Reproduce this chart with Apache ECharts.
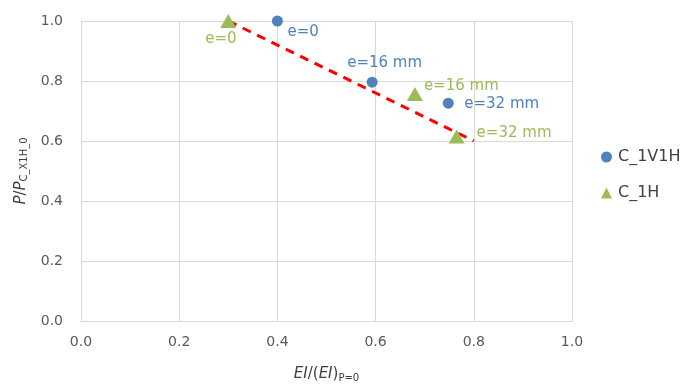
<!DOCTYPE html>
<html>
<head>
<meta charset="utf-8">
<script src="https://cdn.jsdelivr.net/npm/echarts@6/dist/echarts.min.js"></script>
<style>html,body{margin:0;padding:0;background:#fff}#c{width:682px;height:385px}</style>
</head>
<body>
<div id="c"></div>
<script>
// ---- data ----
const seriesNames = ['C_1V1H', 'C_1H'];
const pointLabels = ['e=0', 'e=16 mm', 'e=32 mm'];
const blueX = [0.40, 0.593, 0.748];
const blueY = [1.0, 0.796, 0.726];
const greenX = [0.30, 0.680, 0.765];
const greenY = [1.0, 0.757, 0.615];
const trendX = [0.30, 0.80];
const trendY = [1.0, 0.60];
const xTicks = [0.0, 0.2, 0.4, 0.6, 0.8, 1.0];
const yTicks = [0.0, 0.2, 0.4, 0.6, 0.8, 1.0];

// ---- styles ----
const blue = '#4F81BD', green = '#9BBB59', red = '#FF0000';
const blueOffsets = [[10, 11], [-25, -19], [16, 1]];
const greenOffsets = [[-23, 18], [9, -8], [20, -3]];
const FONT = 'DejaVu Sans';

function pts(xs, ys, offs, color) {
  return xs.map((x, i) => ({
    value: [x, ys[i]],
    label: {
      show: true, formatter: pointLabels[i], position: 'inside', align: 'left', verticalAlign: 'middle',
      offset: offs[i], color: color, opacity: 1, fontFamily: FONT, fontSize: 15
    }
  }));
}

const chart = echarts.init(document.getElementById('c'), null, {renderer: 'canvas'});
chart.setOption({
  animation: false,
  textStyle: {fontFamily: FONT},
  grid: {left: 81, right: 110, top: 21, bottom: 64, containLabel: false, outerBoundsMode: 'none'},
  legend: {
    orient: 'vertical', left: 601, top: 149, padding: 0, itemGap: 20, itemWidth: 11, itemHeight: 11,
    data: [{name: seriesNames[0], icon: 'circle'}, {name: seriesNames[1], icon: 'triangle'}],
    textStyle: {fontFamily: FONT, fontSize: 16, color: '#404040', padding: [0, 0, 0, 1]}
  },
  xAxis: {
    type: 'value', min: xTicks[0], max: xTicks[xTicks.length - 1], interval: 0.2,
    axisLine: {show: true, lineStyle: {color: '#D9D9D9', width: 1}},
    axisTick: {show: false},
    splitLine: {show: true, lineStyle: {color: '#D9D9D9', width: 1}},
    axisLabel: {formatter: v => v.toFixed(1), fontFamily: FONT, fontSize: 14, color: '#595959', margin: 14},
    name: '{i|EI}{n|/(}{i|EI}{n|)}{s|P=0}', nameLocation: 'middle', nameGap: 44,
    nameTextStyle: {
      rich: {
        i: {fontStyle: 'italic', fontFamily: FONT, fontSize: 15, color: '#404040'},
        n: {fontFamily: FONT, fontSize: 15, color: '#404040'},
        s: {fontFamily: FONT, fontSize: 10, color: '#404040', padding: [8, 0, 0, 0]}
      }
    }
  },
  yAxis: {
    type: 'value', min: yTicks[0], max: yTicks[yTicks.length - 1], interval: 0.2,
    axisLine: {show: true, lineStyle: {color: '#D9D9D9', width: 1}},
    axisTick: {show: false},
    splitLine: {show: true, lineStyle: {color: '#D9D9D9', width: 1}},
    axisLabel: {formatter: v => v.toFixed(1), fontFamily: FONT, fontSize: 14, color: '#595959', margin: 18},
    name: '{i|P}{n|/}{i|P}{s|C_X1H_0}', nameLocation: 'middle', nameGap: 48, nameRotate: 90,
    nameTextStyle: {
      rich: {
        i: {fontStyle: 'italic', fontFamily: FONT, fontSize: 15, color: '#404040'},
        n: {fontFamily: FONT, fontSize: 15, color: '#404040'},
        s: {fontFamily: FONT, fontSize: 10, color: '#404040', padding: [8, 0, 0, 0]}
      }
    }
  },
  series: [
    {
      name: 'trend', type: 'line', data: trendX.map((x, i) => [x, trendY[i]]),
      symbol: 'none', lineStyle: {color: red, width: 3, type: [9, 7]}, z: 1, silent: true
    },
    {
      name: seriesNames[0], type: 'scatter', symbol: 'circle', symbolSize: 11,
      itemStyle: {color: blue, opacity: 1}, data: pts(blueX, blueY, blueOffsets, blue), z: 3
    },
    {
      name: seriesNames[1], type: 'scatter', symbol: 'triangle', symbolSize: [16, 14],
      itemStyle: {color: green, opacity: 1}, data: pts(greenX, greenY, greenOffsets, green), z: 3
    }
  ]
});
</script>
</body>
</html>
